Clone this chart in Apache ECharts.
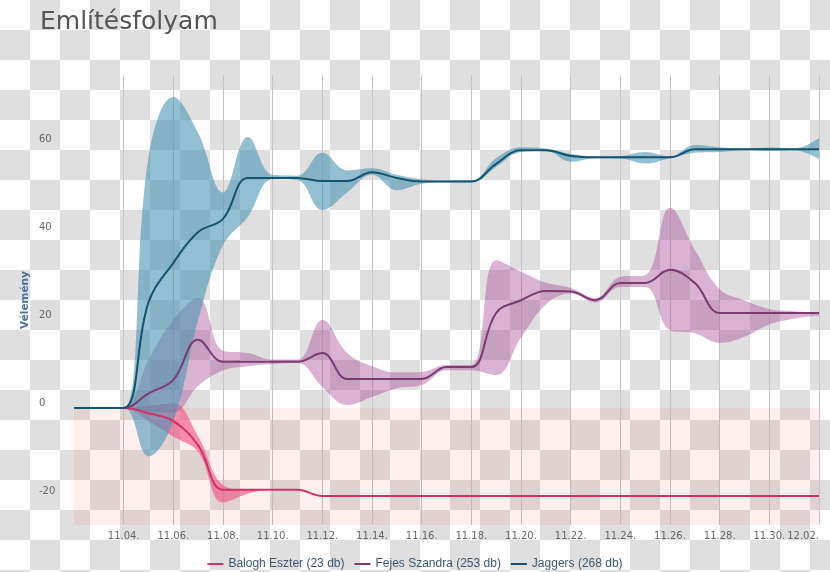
<!DOCTYPE html>
<html><head><meta charset="utf-8">
<script src="https://cdn.jsdelivr.net/npm/echarts@6/dist/echarts.min.js"></script>
<style>
html,body{margin:0;padding:0;}
body{background:#fff repeating-conic-gradient(#dfdfdf 0 25%, #ffffff 0 50%) 0 0/60px 60px;}
#c{width:830px;height:572px;}
</style></head><body><div id="c"></div>
<script>
// one category per day, starting 11.02.
const dateLabels = ['11.02.','11.03.','11.04.','11.05.','11.06.','11.07.','11.08.','11.09.','11.10.','11.11.','11.12.','11.13.','11.14.','11.15.','11.16.','11.17.','11.18.','11.19.','11.20.','11.21.','11.22.','11.23.','11.24.','11.25.','11.26.','11.27.','11.28.','11.29.','11.30.','12.01.','12.02.'];
const yTickValues = [-20, 0, 20, 40, 60];

const seriesNames = ['Balogh Eszter (23 db)', 'Fejes Szandra (253 db)', 'Jaggers (268 db)'];

const baloghLine  = [0,0,0,-1.2,-3,-8.5,-18.6,-18.6,-18.6,-18.6,-20,-20,-20,-20,-20,-20,-20,-20,-20,-20,-20,-20,-20,-20,-20,-20,-20,-20,-20,-20,-20];
const baloghUpper = [0,0,0,0.5,1,-6.5,-17.5,-18.6,-18.6,-18.6,-20,-20,-20,-20,-20,-20,-20,-20,-20,-20,-20,-20,-20,-20,-20,-20,-20,-20,-20,-20,-20];
const baloghLower = [0,0,0,-3,-6.5,-10,-21.5,-19.5,-18.6,-18.6,-20,-20,-20,-20,-20,-20,-20,-20,-20,-20,-20,-20,-20,-20,-20,-20,-20,-20,-20,-20,-20];

const fejesLine  = [0,0,0,3.3,6.4,15.5,10.5,10.5,10.5,10.5,12.5,6.6,6.6,6.6,6.6,9.3,9.3,21.6,24.5,26.6,26.5,24.5,28.4,28.4,31.4,28.4,21.6,21.6,21.6,21.6,21.6];
const fejesUpper = [0,0,0,11,20,25,13,12.5,11,11,20,12.5,9.5,8.1,8.2,9.8,9.8,33.6,31,28.5,27.3,25,29.8,30.2,45.5,36,27,24.5,22.5,22,21.6];
const fejesLower = [0,0,0,-1,-1,5,8.5,9.5,10,10.2,4.8,0.7,2.5,4.5,5.2,8.6,8.6,7.5,16,23.5,26,24,27.5,27.5,17.7,17,14.8,16.2,19,20.3,21];

const jaggersLine  = [0,0,0,24,33,40,43,52.3,52.3,52.3,51.6,51.6,53.6,52.3,51.5,51.5,51.5,55.5,58.6,58.6,57.3,57,57,57,57,58.8,58.8,58.8,58.8,58.8,58.8];
const jaggersUpper = [0,0,0,57,70.7,62.5,49,61.6,53,52.8,58,54,54.5,53,52,51.7,51.7,56.8,59.3,59,57.8,57.2,57.3,58.2,57.2,59.8,59.3,59,59.2,59,61.4];
const jaggersLower = [0,0,0,-11,-3,20,37,43.5,52,51.8,45,49,53,49.5,51,51.3,51.3,54.8,58.2,58.4,56,56.8,56.7,55.6,56.8,58,58.2,58.6,58.4,58.6,56.6];

const Y_MIN = -26.6, Y_MAX = 75.7;

const lineColors = ['#d3306a', '#7a3b72', '#15536c'];
const bandColors = ['rgba(240,80,130,0.62)', 'rgba(165,75,145,0.42)', 'rgba(74,150,180,0.6)'];
const SMOOTH = 0.4;

function diff(u, l) { return u.map((v, i) => +(v - l[i]).toFixed(2)); }

const groups = [
  [baloghLine, baloghUpper, baloghLower],
  [fejesLine, fejesUpper, fejesLower],
  [jaggersLine, jaggersUpper, jaggersLower]
];

const series = [];
groups.forEach((g, k) => {
  series.push({
    name: seriesNames[k] + ' band-base', type: 'line', data: g[2],
    stack: 'band' + k, stackStrategy: 'all', symbol: 'none', smooth: SMOOTH,
    lineStyle: { opacity: 0 }, silent: true, z: 2,
    markArea: k === 0 ? {
      silent: true,
      itemStyle: { color: 'rgba(255,60,60,0.08)' },
      data: [[{ yAxis: 0 }, { yAxis: Y_MIN }]]
    } : undefined
  });
  series.push({
    name: seriesNames[k] + ' band', type: 'line', data: diff(g[1], g[2]),
    stack: 'band' + k, stackStrategy: 'all', symbol: 'none', smooth: SMOOTH,
    lineStyle: { opacity: 0 }, areaStyle: { color: bandColors[k], opacity: 1 }, silent: true, z: 2
  });
});
groups.forEach((g, k) => {
  series.push({
    name: seriesNames[k], type: 'line', data: g[0], symbol: 'none', smooth: SMOOTH,
    lineStyle: { color: lineColors[k], width: 2 }, itemStyle: { color: lineColors[k] }, z: 4
  });
});

const chart = echarts.init(document.getElementById('c'), null, { renderer: 'canvas' });
chart.setOption({
  animation: false,
  backgroundColor: 'transparent',
  title: {
    text: 'Említésfolyam', left: 35, top: 5,
    textStyle: { fontFamily: 'DejaVu Sans', fontSize: 25, fontWeight: 'normal', color: '#555555' }
  },
  legend: {
    data: seriesNames, top: 553, left: 'center', icon: 'rect', itemWidth: 16, itemHeight: 2, itemGap: 10,
    textStyle: { fontFamily: 'Liberation Sans', fontSize: 12, color: '#3e576f' }
  },
  grid: { left: 74, right: 11, top: 75, bottom: 47, containLabel: false },
  xAxis: {
    type: 'category', data: dateLabels, boundaryGap: false,
    axisLine: { show: false }, axisTick: { show: false },
    axisLabel: {
      interval: 1, alignMaxLabel: 'right', margin: 6,
      formatter: (v, i) => (i === 0 ? '' : v),
      fontFamily: 'DejaVu Sans', fontSize: 10, color: '#666666'
    },
    splitLine: { show: true, interval: (i) => i > 0 && i % 2 === 0, lineStyle: { color: '#c4c4c4', width: 1 } }
  },
  yAxis: {
    type: 'value', min: Y_MIN, max: Y_MAX,
    name: 'Vélemény', nameLocation: 'middle', nameRotate: 90, nameGap: 49, nameMoveOverlap: false,
    nameTextStyle: { fontFamily: 'DejaVu Sans', fontSize: 10.5, fontWeight: 'bold', color: '#4d72a0', verticalAlign: 'middle' },
    axisLine: { show: false }, axisTick: { show: false }, splitLine: { show: false },
    axisLabel: {
      customValues: yTickValues, align: 'left', margin: 35, verticalAlign: 'bottom',
      fontFamily: 'DejaVu Sans', fontSize: 10, color: '#666666'
    }
  },
  series: series
});
</script></body></html>
